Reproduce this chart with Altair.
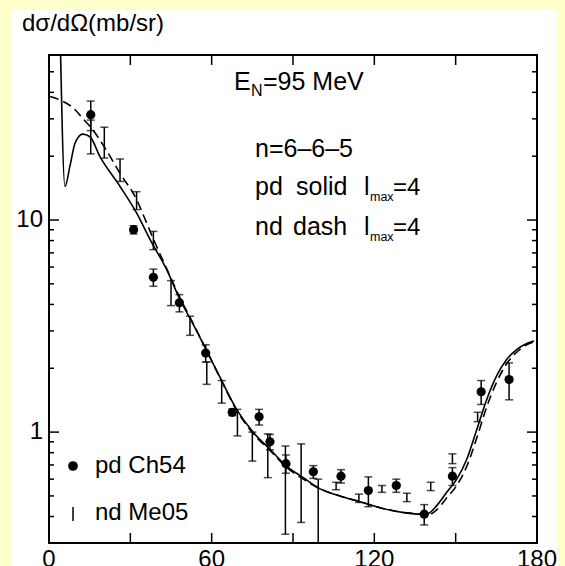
import altair as alt
import pandas as pd

FONT = "Liberation Sans"

# pd data, Ch54: angle (deg), cross section (mb/sr), error
pd_angle = [15.4, 31.2, 38.5, 48.1, 57.8, 67.6, 77.5, 81.5, 87.4, 97.5, 107.7,
            117.8, 128.1, 138.4, 148.8, 159.4, 169.7]
pd_value = [31.4, 9.0, 5.37, 4.07, 2.36, 1.24, 1.18, 0.90, 0.71, 0.65, 0.62,
            0.53, 0.56, 0.41, 0.62, 1.55, 1.77]
pd_error = [5.0, 0.4, 0.5, 0.38, 0.22, 0.045, 0.10, 0.075, 0.07, 0.045, 0.045,
            0.085, 0.04, 0.045, 0.06, 0.2, 0.35]

# nd data, Me05: angle (deg), lower and upper ends of each error bar
nd_angle = [15.4, 20.4, 26.2, 32.3, 38.5, 45.0, 52.0, 58.2, 63.7, 69.5, 75.0,
            80.7, 87.2, 93.0, 99.3, 105.9, 114.3, 122.8, 132.0, 140.8, 148.8, 158.1]
nd_low = [20.5, 19.6, 15.2, 11.2, 7.25, 3.95, 2.86, 1.68, 1.37, 0.96, 0.73,
          0.61, 0.33, 0.375, 0.2, 0.535, 0.466, 0.52, 0.47, 0.53, 0.71, 1.12]
nd_high = [29.6, 27.4, 19.4, 13.6, 8.84, 5.18, 3.52, 2.14, 1.75, 1.28, 1.0,
           0.98, 0.86, 0.88, 0.60, 0.58, 0.51, 0.56, 0.515, 0.58, 0.79, 1.24]

# calculated pd cross section (solid)
pd_curve_angle = [4.0, 5.9, 7.7, 9.6, 12.4, 15.1, 18.8, 26.2, 32.3, 37.3, 43.4,
                  48.3, 53.2, 58.2, 63.1, 69.2, 75.4, 81.5, 87.7, 93.8, 100.0,
                  107.3, 114.7, 122.1, 129.5, 136.9, 139.3, 143.0, 146.7, 150.4,
                  154.1, 157.8, 161.5, 165.1, 168.8, 172.5, 176.2, 178.9]
pd_curve_value = [90, 14.4, 17.9, 23.0, 25.4, 24.7, 19.9, 14.4, 10.8, 8.08, 5.84,
                  4.22, 3.22, 2.41, 1.81, 1.28, 0.995, 0.83, 0.69, 0.61, 0.54,
                  0.50, 0.47, 0.44, 0.42, 0.41, 0.41, 0.45, 0.52, 0.60,
                  0.745, 1.03, 1.43, 1.84, 2.20, 2.45, 2.62, 2.69]

# calculated nd cross section (dashed)
nd_curve_angle = [0.4, 4.1, 9.0, 12.7, 15.7, 20.7, 26.2, 32.3, 36.0, 39.5, 43.4,
                  48.3, 53.2, 58.2, 63.1, 69.2, 75.4, 81.5, 87.7, 93.8, 100.0,
                  107.3, 114.7, 122.1, 129.5, 136.9, 139.3, 143.0, 146.7, 150.4,
                  154.1, 157.8, 161.5, 165.1, 168.8, 172.5, 176.2, 178.9]
nd_curve_value = [38.2, 36.8, 33.7, 29.9, 27.1, 21.8, 16.6, 12.5, 9.7, 7.6, 5.9,
                  4.3, 3.25, 2.42, 1.80, 1.27, 0.98, 0.82, 0.68, 0.60, 0.54,
                  0.50, 0.47, 0.44, 0.42, 0.41, 0.405, 0.43, 0.49, 0.56,
                  0.69, 0.94, 1.32, 1.72, 2.10, 2.38, 2.58, 2.66]

# axis ticks and tick labels
x_labels = [0, 60, 120, 180]
x_ticks = [30, 60, 90, 120, 150]
y_labels = [1, 10]
y_major = [1, 10]
y_minor = [0.4, 0.5, 0.6, 0.7, 0.8, 0.9, 2, 3, 4, 5, 6, 7, 8, 9, 20, 30, 40, 50]

W = H = 488
one = pd.DataFrame({"k": [0]})

xs = alt.Scale(domain=[0, 180], nice=False, zero=False)
ys = alt.Scale(type="log", domain=[0.3, 60], nice=False)


def X(field):
    return alt.X(field, scale=xs, axis=None)


def Y(field):
    return alt.Y(field, scale=ys, axis=None)


pd_df = pd.DataFrame({"angle": pd_angle, "value": pd_value, "err": pd_error})
pd_df["lo"] = pd_df["value"] - pd_df["err"]
pd_df["hi"] = pd_df["value"] + pd_df["err"]
nd_df = pd.DataFrame({"angle": nd_angle, "lo": nd_low, "hi": nd_high})
solid_df = pd.DataFrame({"angle": pd_curve_angle, "value": pd_curve_value})
dash_df = pd.DataFrame({"angle": nd_curve_angle, "value": nd_curve_value})

# white panel behind everything
panel = alt.Chart(one).mark_rect(color="white").encode(
    x=alt.value(-37), x2=alt.value(W + 20), y=alt.value(-45), y2=alt.value(H + 30)
)

solid = alt.Chart(solid_df).mark_line(
    color="black", strokeWidth=1.6, clip=True, interpolate="monotone"
).encode(x=X("angle:Q"), y=Y("value:Q"))

dashed = alt.Chart(dash_df).mark_line(
    color="black", strokeWidth=1.6, strokeDash=[9, 5], clip=True,
    interpolate="monotone"
).encode(x=X("angle:Q"), y=Y("value:Q"))

# nd error bars with caps
nd_bar = alt.Chart(nd_df).mark_rule(color="black", strokeWidth=1.5, clip=True).encode(
    x=X("angle:Q"), y=Y("lo:Q"), y2="hi:Q")
nd_cap_lo = alt.Chart(nd_df).mark_tick(
    color="black", orient="horizontal", size=8, thickness=1.5, clip=True
).encode(x=X("angle:Q"), y=Y("lo:Q"))
nd_cap_hi = alt.Chart(nd_df).mark_tick(
    color="black", orient="horizontal", size=8, thickness=1.5, clip=True
).encode(x=X("angle:Q"), y=Y("hi:Q"))

# pd points with error bars
pd_bar = alt.Chart(pd_df).mark_rule(color="black", strokeWidth=1.5, clip=True).encode(
    x=X("angle:Q"), y=Y("lo:Q"), y2="hi:Q")
pd_cap_lo = alt.Chart(pd_df).mark_tick(
    color="black", orient="horizontal", size=8, thickness=1.5
).encode(x=X("angle:Q"), y=Y("lo:Q"))
pd_cap_hi = alt.Chart(pd_df).mark_tick(
    color="black", orient="horizontal", size=8, thickness=1.5
).encode(x=X("angle:Q"), y=Y("hi:Q"))
pd_pts = alt.Chart(pd_df).mark_circle(color="black", size=85, opacity=1).encode(
    x=X("angle:Q"), y=Y("value:Q"))

# inward ticks on all four sides
xt = pd.DataFrame({"t": x_ticks})
xtick_b = alt.Chart(xt).mark_rule(color="black", strokeWidth=1.5).encode(
    x=X("t:Q"), y=alt.value(H), y2=alt.value(H - 10))
xtick_t = alt.Chart(xt).mark_rule(color="black", strokeWidth=1.5).encode(
    x=X("t:Q"), y=alt.value(0), y2=alt.value(10))

ymaj = pd.DataFrame({"t": y_major})
ymin = pd.DataFrame({"t": y_minor})


def ytick(df, x0, x1):
    return alt.Chart(df).mark_rule(color="black", strokeWidth=1.5).encode(
        y=Y("t:Q"), x=alt.value(x0), x2=alt.value(x1))


yticks = [ytick(ymaj, 0, 10), ytick(ymin, 0, 5),
          ytick(ymaj, W, W - 10), ytick(ymin, W, W - 5)]

# tick labels placed through the scales
xlab = alt.Chart(pd.DataFrame({"t": x_labels})).mark_text(
    font=FONT, fontSize=24, color="black", align="center", baseline="top"
).encode(x=X("t:Q"), y=alt.value(H + 5), text=alt.Text("t:Q", format="d"))
ylab = alt.Chart(pd.DataFrame({"t": y_labels})).mark_text(
    font=FONT, fontSize=24, color="black", align="right", baseline="middle"
).encode(y=Y("t:Q"), x=alt.value(-6), text=alt.Text("t:Q", format="d"))

frame = alt.Chart(one).mark_rect(
    fill="transparent", stroke="black", strokeWidth=2
).encode(x=alt.value(0), x2=alt.value(W), y=alt.value(0), y2=alt.value(H))


def label(text, x, y, size=25, baseline="alphabetic"):
    return alt.Chart(one).mark_text(
        text=text, align="left", baseline=baseline, fontSize=size, font=FONT,
        color="black"
    ).encode(x=alt.value(x), y=alt.value(y))


texts = [
    label("dσ/dΩ(mb/sr)", -27, -24, size=24),
    label("E", 185, 35),
    label("N", 202, 41, size=16),
    label("=95 MeV", 214, 35),
    label("n=6–6–5", 206, 102),
    label("pd", 206, 140),
    label("solid", 247, 140),
    label("l", 315, 140),
    label("max", 321, 146, size=12.5),
    label("=4", 344, 140, size=24),
    label("nd", 206, 180),
    label("dash", 244, 180),
    label("l", 315, 180),
    label("max", 321, 186, size=12.5),
    label("=4", 344, 180, size=24),
    label("pd Ch54", 46, 411, size=24, baseline="middle"),
    label("nd Me05", 46, 458, size=24, baseline="middle"),
]

legend_dot = alt.Chart(one).mark_circle(color="black", size=95, opacity=1).encode(
    x=alt.value(24), y=alt.value(411))
legend_bar = alt.Chart(one).mark_rule(color="black", strokeWidth=1.5).encode(
    x=alt.value(24), x2=alt.value(24), y=alt.value(452), y2=alt.value(466))

chart = alt.layer(
    panel, solid, dashed, nd_bar, nd_cap_lo, nd_cap_hi, pd_bar, pd_cap_lo,
    pd_cap_hi, pd_pts, xtick_b, xtick_t, *yticks, frame, xlab, ylab, *texts,
    legend_dot, legend_bar,
).properties(
    width=W, height=H,
    autosize=alt.AutoSizeParams(type="none"),
    padding={"left": 49, "top": 55, "right": 28, "bottom": 23},
    background="#FFFFCC",
).configure_view(strokeOpacity=0)

chart.save("out.html", embed_options={"renderer": "svg", "actions": False})
